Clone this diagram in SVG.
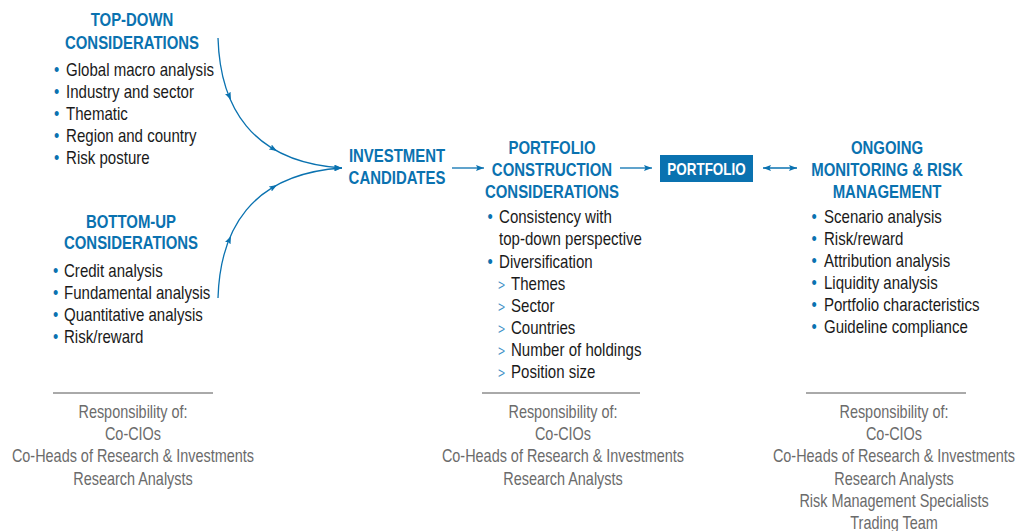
<svg xmlns="http://www.w3.org/2000/svg" width="1031" height="531" viewBox="0 0 1031 531">
<defs>
<style>
text{font-family:"Liberation Sans",Arial,sans-serif;}
.h{font-size:18px;font-weight:bold;fill:#0a72b0;text-anchor:middle;}
.b{font-size:17.5px;fill:#1a1a1a;}
.d{fill:#0a72b0;}
.g{font-size:17.5px;fill:#6b6b6b;text-anchor:middle;}
.gt{font-size:14px;fill:#3d8fc6;}
.c{fill:none;stroke:#0a72b0;stroke-width:1.3;}
.sep{stroke:#555;stroke-width:1;}
</style>
<marker id="ah" viewBox="0 0 8 6" refX="8" refY="3" markerWidth="8" markerHeight="6" markerUnits="userSpaceOnUse" orient="auto">
<path d="M0,0 L8,3 L0,6 L1.5,3 z" fill="#0a72b0"/>
</marker>
<marker id="ahs" viewBox="0 0 8 6" refX="8" refY="3" markerWidth="8" markerHeight="6" markerUnits="userSpaceOnUse" orient="auto-start-reverse">
<path d="M0,0 L8,3 L0,6 L1.5,3 z" fill="#0a72b0"/>
</marker>
</defs>
<rect width="1031" height="531" fill="#fff"/>

<g id="connectors">
<path class="c" d="M218,38 C220,105 250,162 342,168" marker-end="url(#ah)"/>
<path class="c" d="M218,298 C220,231 250,174 342,168" marker-end="url(#ah)"/>
<path d="M230.2,98.2 L231,100" stroke="none" marker-end="url(#ah)"/>
<path d="M275.3,150 L277,151" stroke="none" marker-end="url(#ah)"/>
<path d="M230.2,237.8 L231,236" stroke="none" marker-end="url(#ah)"/>
<path d="M275.3,186 L277,185" stroke="none" marker-end="url(#ah)"/>
<path class="c" d="M452,168 L484,168" marker-end="url(#ah)"/>
<path class="c" d="M620,168 L652,168" marker-end="url(#ah)"/>
<path class="c" d="M763,168 L797,168" marker-start="url(#ahs)" marker-end="url(#ah)"/>
</g>

<g id="top-down">
<text class="h" transform="translate(132,26) scale(.83,1)">TOP-DOWN</text>
<text class="h" transform="translate(132,49) scale(.83,1)">CONSIDERATIONS</text>
<g class="b">
<text transform="translate(54,76) scale(.86,1)"><tspan class="d">•</tspan><tspan x="14">Global macro analysis</tspan></text>
<text transform="translate(54,98) scale(.86,1)"><tspan class="d">•</tspan><tspan x="14">Industry and sector</tspan></text>
<text transform="translate(54,120) scale(.86,1)"><tspan class="d">•</tspan><tspan x="14">Thematic</tspan></text>
<text transform="translate(54,142) scale(.86,1)"><tspan class="d">•</tspan><tspan x="14">Region and country</tspan></text>
<text transform="translate(54,164) scale(.86,1)"><tspan class="d">•</tspan><tspan x="14">Risk posture</tspan></text>
</g>
</g>

<g id="bottom-up">
<text class="h" transform="translate(131,228) scale(.83,1)">BOTTOM-UP</text>
<text class="h" transform="translate(131,249) scale(.83,1)">CONSIDERATIONS</text>
<g class="b">
<text transform="translate(53,277) scale(.86,1)"><tspan class="d">•</tspan><tspan x="12.8">Credit analysis</tspan></text>
<text transform="translate(53,299) scale(.86,1)"><tspan class="d">•</tspan><tspan x="12.8">Fundamental analysis</tspan></text>
<text transform="translate(53,321) scale(.86,1)"><tspan class="d">•</tspan><tspan x="12.8">Quantitative analysis</tspan></text>
<text transform="translate(53,343) scale(.86,1)"><tspan class="d">•</tspan><tspan x="12.8">Risk/reward</tspan></text>
</g>
</g>

<g id="investment-candidates">
<text class="h" transform="translate(397,162) scale(.83,1)">INVESTMENT</text>
<text class="h" transform="translate(397,184) scale(.83,1)">CANDIDATES</text>
</g>

<g id="portfolio-construction">
<text class="h" transform="translate(552,154) scale(.83,1)">PORTFOLIO</text>
<text class="h" transform="translate(552,176) scale(.83,1)">CONSTRUCTION</text>
<text class="h" transform="translate(552,198) scale(.83,1)">CONSIDERATIONS</text>
<g class="b">
<text transform="translate(487.5,223) scale(.86,1)"><tspan class="d">•</tspan><tspan x="13.4">Consistency with</tspan></text>
<text transform="translate(499,245) scale(.86,1)">top-down perspective</text>
<text transform="translate(487.5,268) scale(.86,1)"><tspan class="d">•</tspan><tspan x="13.4">Diversification</tspan></text>
<text transform="translate(498,290) scale(.86,1)"><tspan class="gt">&gt;</tspan><tspan x="15.1">Themes</tspan></text>
<text transform="translate(498,312) scale(.86,1)"><tspan class="gt">&gt;</tspan><tspan x="15.1">Sector</tspan></text>
<text transform="translate(498,334) scale(.86,1)"><tspan class="gt">&gt;</tspan><tspan x="15.1">Countries</tspan></text>
<text transform="translate(498,356) scale(.86,1)"><tspan class="gt">&gt;</tspan><tspan x="15.1">Number of holdings</tspan></text>
<text transform="translate(498,378) scale(.86,1)"><tspan class="gt">&gt;</tspan><tspan x="15.1">Position size</tspan></text>
</g>
</g>

<g id="portfolio">
<rect x="660" y="155" width="93" height="27" fill="#0a72b0"/>
<text transform="translate(706.5,175) scale(.84,1)" style="font-size:16px;font-weight:bold;fill:#fff;text-anchor:middle;">PORTFOLIO</text>
</g>

<g id="monitoring">
<text class="h" transform="translate(887,154) scale(.83,1)">ONGOING</text>
<text class="h" transform="translate(887,176) scale(.83,1)">MONITORING &amp; RISK</text>
<text class="h" transform="translate(887,198) scale(.83,1)">MANAGEMENT</text>
<g class="b">
<text transform="translate(811.5,223) scale(.86,1)"><tspan class="d">•</tspan><tspan x="14.5">Scenario analysis</tspan></text>
<text transform="translate(811.5,245) scale(.86,1)"><tspan class="d">•</tspan><tspan x="14.5">Risk/reward</tspan></text>
<text transform="translate(811.5,267) scale(.86,1)"><tspan class="d">•</tspan><tspan x="14.5">Attribution analysis</tspan></text>
<text transform="translate(811.5,289) scale(.86,1)"><tspan class="d">•</tspan><tspan x="14.5">Liquidity analysis</tspan></text>
<text transform="translate(811.5,311) scale(.86,1)"><tspan class="d">•</tspan><tspan x="14.5">Portfolio characteristics</tspan></text>
<text transform="translate(811.5,333) scale(.86,1)"><tspan class="d">•</tspan><tspan x="14.5">Guideline compliance</tspan></text>
</g>
</g>

<g id="resp-left">
<line class="sep" x1="53" y1="393" x2="213" y2="393"/>
<text class="g" transform="translate(133,418) scale(.825,1)">Responsibility of:</text>
<text class="g" transform="translate(133,440) scale(.825,1)">Co-CIOs</text>
<text class="g" transform="translate(133,462) scale(.825,1)">Co-Heads of Research &amp; Investments</text>
<text class="g" transform="translate(133,485) scale(.825,1)">Research Analysts</text>
</g>

<g id="resp-middle">
<line class="sep" x1="482" y1="393" x2="640" y2="393"/>
<text class="g" transform="translate(563,418) scale(.825,1)">Responsibility of:</text>
<text class="g" transform="translate(563,440) scale(.825,1)">Co-CIOs</text>
<text class="g" transform="translate(563,462) scale(.825,1)">Co-Heads of Research &amp; Investments</text>
<text class="g" transform="translate(563,485) scale(.825,1)">Research Analysts</text>
</g>

<g id="resp-right">
<line class="sep" x1="806" y1="393" x2="966" y2="393"/>
<text class="g" transform="translate(894,418) scale(.825,1)">Responsibility of:</text>
<text class="g" transform="translate(894,440) scale(.825,1)">Co-CIOs</text>
<text class="g" transform="translate(894,462) scale(.825,1)">Co-Heads of Research &amp; Investments</text>
<text class="g" transform="translate(894,485) scale(.825,1)">Research Analysts</text>
<text class="g" transform="translate(894,507) scale(.825,1)">Risk Management Specialists</text>
<text class="g" transform="translate(894,529) scale(.825,1)">Trading Team</text>
</g>
</svg>
